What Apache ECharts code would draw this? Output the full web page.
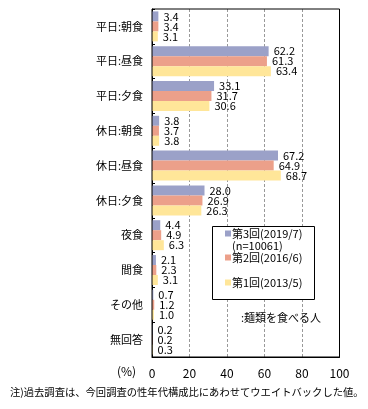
<!DOCTYPE html>
<html><head><meta charset="utf-8">
<script src="https://cdn.jsdelivr.net/npm/echarts@6/dist/echarts.min.js"></script>
<style>html,body{margin:0;padding:0;background:#fff}#c{width:368px;height:409px}</style>
</head><body><div id="c"></div>
<script>
const categories = ['平日:朝食','平日:昼食','平日:夕食','休日:朝食','休日:昼食','休日:夕食','夜食','間食','その他','無回答'];
const seriesNames = ['第3回(2019/7)','第2回(2016/6)','第1回(2013/5)'];
const s2019 = [3.4,62.2,33.1,3.8,67.2,28.0,4.4,2.1,0.7,0.2];
const s2016 = [3.4,61.3,31.7,3.7,64.9,26.9,4.9,2.3,1.2,0.2];
const s2013 = [3.1,63.4,30.6,3.8,68.7,26.3,6.3,3.1,1.0,0.3];
const xTicks = [0,20,40,60,80,100];
const colors = ['#9BA1C8','#ECA08A','#FFE699'];
const F = '"Noto Sans CJK JP", sans-serif';

const chart = echarts.init(document.getElementById('c'), null, {renderer:'canvas'});
const data = [s2019, s2016, s2013];
const mk = (i) => ({
  name: seriesNames[i], type:'bar', data: data[i],
  barWidth: 10, barGap: '0%',
  itemStyle:{color: colors[i]},
  label:{show:true, position:'right', distance:5, color:'#000', fontFamily:F, fontSize:11,
    formatter: p => p.value.toFixed(1)},
  animation:false
});
const legendBase = {orient:'vertical', icon:'rect', itemWidth:6, itemHeight:6, itemGap:0, z:30,
  textStyle:{fontFamily:F, fontSize:11, color:'#000', padding:[0,0,0,-4]}, selectedMode:false, padding:0};
chart.setOption({
  animation:false,
  grid:{left:152, right:28.5, top:9, bottom:52, containLabel:false},
  xAxis:{type:'value', min:0, max:100, interval:20,
    axisLine:{show:true, lineStyle:{color:'#000'}}, axisTick:{show:false},
    axisLabel:{color:'#000', fontFamily:F, fontSize:12, margin:10, formatter: v => xTicks.includes(v) ? String(v) : ''},
    splitLine:{show:true, lineStyle:{color:'#999', type:[3,2]}}},
  yAxis:{type:'category', data:categories, inverse:true,
    axisLine:{show:true, lineStyle:{color:'#000'}},
    axisTick:{show:true, inside:true, length:3, lineStyle:{color:'#000'}},
    axisLabel:{color:'#000', fontFamily:F, fontSize:11, margin:9}},
  series:[mk(0), mk(1), mk(2)],
  legend:[
    Object.assign({}, legendBase, {data:[seriesNames[0]], left:225, top:228}),
    Object.assign({}, legendBase, {data:[seriesNames[1]], left:225, top:252}),
    Object.assign({}, legendBase, {data:[seriesNames[2]], left:225, top:277})
  ],
  graphic:[
    {type:'rect', shape:{x:152, y:9, width:187.5, height:348}, style:{fill:'none', stroke:'#000', lineWidth:1}, silent:true, z:10},
    {type:'rect', shape:{x:212.5, y:226.5, width:102, height:73}, style:{fill:'#fff', stroke:'#000', lineWidth:1}, z:5},
    {type:'text', left:232, top:240, style:{text:'(n=10061)', font:'11px '+F, fill:'#000'}, z:20},
    {type:'text', left:241, top:312, style:{text:':麺類を食べる人', font:'11px '+F, fill:'#000'}, z:20},
    {type:'text', left:117, top:365, style:{text:'(%)', font:'12px '+F, fill:'#000'}},
    {type:'text', left:10, top:387, style:{text:'注)過去調査は、今回調査の性年代構成比にあわせてウエイトバックした値。', font:'10.3px '+F, fill:'#000'}}
  ]
});
</script></body></html>
